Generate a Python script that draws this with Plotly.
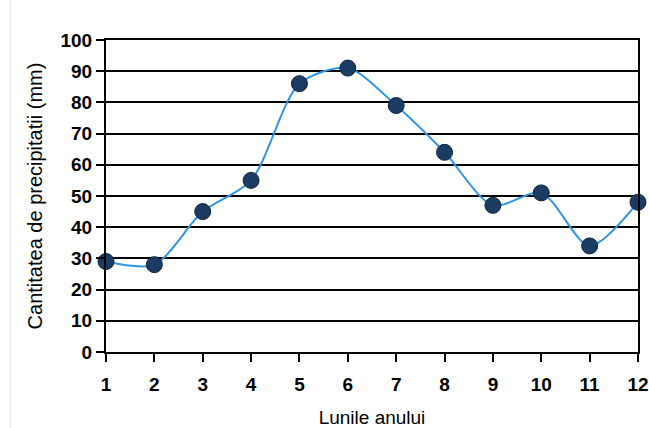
import plotly.graph_objects as go

months = [1, 2, 3, 4, 5, 6, 7, 8, 9, 10, 11, 12]
precip = [29, 28, 45, 55, 86, 91, 79, 64, 47, 51, 34, 48]
x_title = "Lunile anului"
y_title = "Cantitatea de precipitatii (mm)"

fig = go.Figure()
fig.add_trace(go.Scatter(
    x=months, y=precip, mode="lines+markers",
    line=dict(color="#2f95e6", width=2, shape="spline", smoothing=0.8),
    marker=dict(color="#1c3b62", size=16, line=dict(color="#10243f", width=1)),
    cliponaxis=False, showlegend=False,
))

font_family = "Liberation Sans, Arial, sans-serif"
fig.update_layout(
    width=649, height=428,
    margin=dict(l=106, r=11, t=40, b=76),
    paper_bgcolor="white", plot_bgcolor="white",
    font=dict(family=font_family, color="black"),
)
fig.update_xaxes(
    range=[1, 12], tickvals=months, ticktext=[str(m) for m in months],
    showgrid=False, zeroline=False, automargin=False,
    showline=True, linecolor="black", linewidth=2, mirror=True,
    ticks="outside", ticklen=8, tickwidth=2, tickcolor="black",
    ticklabelstandoff=6,
    tickfont=dict(size=19, family=font_family, weight="bold"),
    title=dict(text=x_title, font=dict(size=19), standoff=21),
)
fig.update_yaxes(
    range=[0, 100], dtick=10,
    showgrid=True, gridcolor="black", gridwidth=1.8, zeroline=False, automargin=False,
    showline=True, linecolor="black", linewidth=2, mirror=True,
    ticks="outside", ticklen=8, tickwidth=2, tickcolor="black",
    tickfont=dict(size=19, family=font_family, weight="bold"),
    title=dict(text=y_title, font=dict(size=20), standoff=12),
)
fig.add_shape(type="line", xref="paper", yref="paper", x0=-0.18, x1=-0.18, y0=-0.25, y1=1.15,
              line=dict(color="#e8e8e8", width=1))
fig.write_html(
    "out.html",
    config={"displayModeBar": False},
    post_script="document.body.style.margin='0';document.body.style.overflow='hidden';",
)
